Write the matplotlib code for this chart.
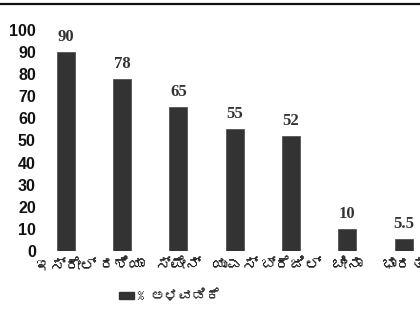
import matplotlib
matplotlib.use('Agg')
import matplotlib.pyplot as plt
from matplotlib import font_manager
from matplotlib.ft2font import FT2Font

countries = ['ಇಸ್ರೇಲ್', 'ರಶಿಯಾ', 'ಸ್ಪೇನ್', 'ಯುಎಸ್', 'ಬ್ರೆಜಿಲ್', 'ಚೀನಾ', 'ಭಾರತ']
adoption = [90, 78, 65, 55, 52, 10, 5.5]
value_labels = ['90', '78', '65', '55', '52', '10', '5.5']
yticks = [0, 10, 20, 30, 40, 50, 60, 70, 80, 90, 100]
legend_label = '% ಅಳವಡಿಕೆ'

# pick an installed font that can draw Kannada, if there is one
kn_family = []
for f in font_manager.fontManager.ttflist:
    try:
        if 0x0C87 in FT2Font(f.fname).get_charmap():
            kn_family = [f.name]
            break
    except Exception:
        pass
kn_fonts = kn_family + ['DejaVu Sans']

bar_color = '#333333'

fig = plt.figure(figsize=(4.2, 3.23), dpi=100)
ax = fig.add_axes([40 / 420, 1 - 251 / 323, 380 / 420, (251 - 30) / 323])

x = list(range(len(countries)))
ax.bar(x, adoption, width=0.32, color=bar_color, edgecolor='#555555', linewidth=0.6)

for xi, v, lab in zip(x, adoption, value_labels):
    ax.text(xi, v + 3.2, lab, ha='center', va='bottom', fontsize=12,
            family='Liberation Serif', fontweight='bold', color='#333333')

ax.set_xlim(-0.455, 6.29)
ax.set_ylim(0, 100)
ax.set_yticks(yticks)
ax.set_yticklabels([str(t) for t in yticks], fontsize=11.5,
                   family='Liberation Sans', fontweight='bold', color='#111111')
ax.set_xticks(x)
ax.set_xticklabels(countries, fontsize=11, family=kn_fonts, color='#222222')
ax.tick_params(axis='both', length=0)
ax.tick_params(axis='y', pad=3)
ax.tick_params(axis='x', pad=5)
for s in ax.spines.values():
    s.set_visible(False)

# rule across the top
fig.add_artist(plt.Line2D([0, 1], [1 - 3.5 / 323, 1 - 3.5 / 323],
                          color='#111111', linewidth=1.6))

# legend
fig.add_artist(plt.Rectangle((119 / 420, 1 - 299 / 323), 15 / 420, 7 / 323,
                             color=bar_color))
fig.text(137 / 420, 1 - 296 / 323, legend_label, fontsize=10, family=kn_fonts,
         va='center', ha='left', color='#333333')

fig.savefig('out.png', dpi=100)
